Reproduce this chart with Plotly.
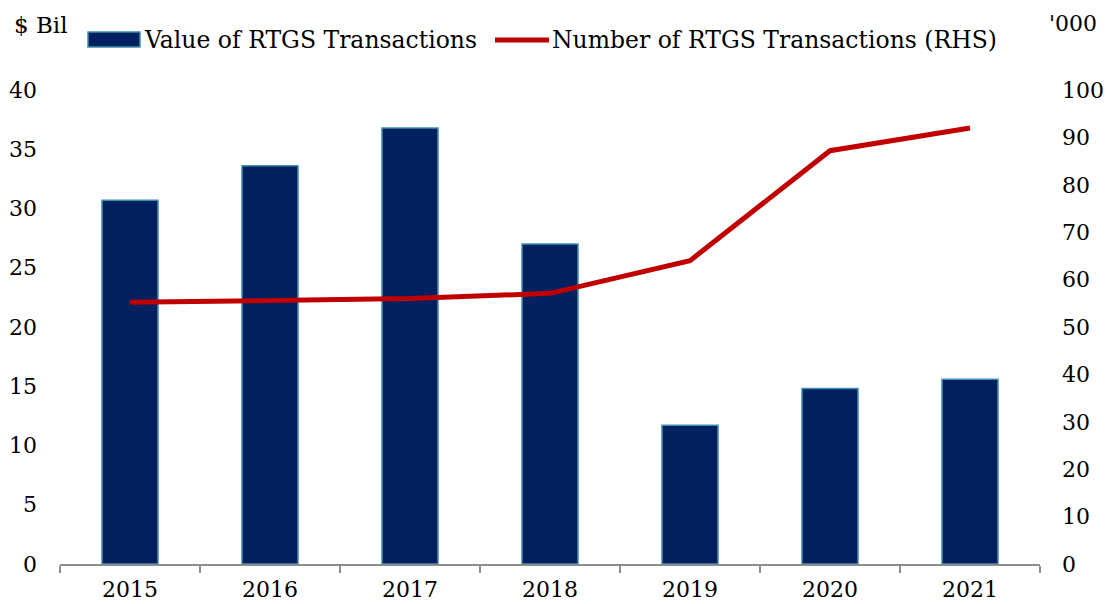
import plotly.graph_objects as go

years = ["2015", "2016", "2017", "2018", "2019", "2020", "2021"]
value_bil = [30.7, 33.6, 36.8, 27.0, 11.7, 14.8, 15.6]
number_000 = [55.2, 55.6, 56.0, 57.1, 64.0, 87.2, 92.0]

FONT = "DejaVu Serif"
W, H = 1107, 604
L, R, T, B = 60, 67, 90, 40
PW, PH = W - L - R, H - T - B


def px(x):
    return (x - L) / PW


def py(y):
    return (H - B - y) / PH


fig = go.Figure()
fig.add_trace(go.Bar(
    x=years, y=value_bil, name="Value of RTGS Transactions",
    marker=dict(color="#002060", line=dict(color="#3f8fab", width=1.5)),
    width=0.40, yaxis="y", showlegend=False
))
fig.add_trace(go.Scatter(
    x=years, y=number_000, name="Number of RTGS Transactions (RHS)",
    mode="lines", line=dict(color="#c00000", width=5), yaxis="y2", showlegend=False
))

shapes = [
    dict(type="rect", xref="paper", yref="paper", x0=px(88), x1=px(140), y0=py(47), y1=py(32),
         fillcolor="#002060", line=dict(color="#3f8fab", width=1.5)),
    dict(type="line", xref="paper", yref="paper", x0=px(495), x1=px(549), y0=py(40), y1=py(40),
         line=dict(color="#c00000", width=5)),
]

fig.update_layout(
    width=W, height=H,
    margin=dict(l=L, r=R, t=T, b=B, autoexpand=False),
    paper_bgcolor="white", plot_bgcolor="white",
    font=dict(family=FONT, size=22, color="black"),
    showlegend=False,
    bargap=0.6,
    xaxis=dict(type="category", showline=True, linecolor="#8c8c8c", linewidth=1.5,
               ticks="outside", tickson="boundaries", ticklen=7, tickcolor="#8c8c8c",
               tickwidth=1.5, showgrid=False, tickfont=dict(size=22), automargin=False,
               ticklabelstandoff=5),
    yaxis=dict(range=[0, 40], dtick=5, showgrid=False, zeroline=False, showline=False,
               ticks="", ticklabelstandoff=22, tickfont=dict(size=22), automargin=False),
    yaxis2=dict(range=[0, 100], dtick=10, overlaying="y", side="right", showgrid=False,
                zeroline=False, showline=False, ticks="", tickfont=dict(size=22),
                ticklabelstandoff=21, automargin=False),
    shapes=shapes,
    annotations=[
        dict(text="$ Bil", xref="paper", yref="paper", x=px(12), y=py(25), xanchor="left",
             yanchor="middle", showarrow=False, font=dict(family=FONT, size=23)),
        dict(text="'000", xref="paper", yref="paper", x=px(1047), y=py(24), xanchor="left",
             yanchor="middle", showarrow=False, font=dict(family=FONT, size=22)),
        dict(text="Value of RTGS Transactions", xref="paper", yref="paper", x=px(142), y=py(40),
             xanchor="left", yanchor="middle", showarrow=False, font=dict(family=FONT, size=23.5)),
        dict(text="Number of RTGS Transactions (RHS)", xref="paper", yref="paper", x=px(550),
             y=py(40), xanchor="left", yanchor="middle", showarrow=False,
             font=dict(family=FONT, size=23.5)),
    ],
)

fig.write_html("out.html", config={"displayModeBar": False},
               post_script="document.body.style.margin='0';")
